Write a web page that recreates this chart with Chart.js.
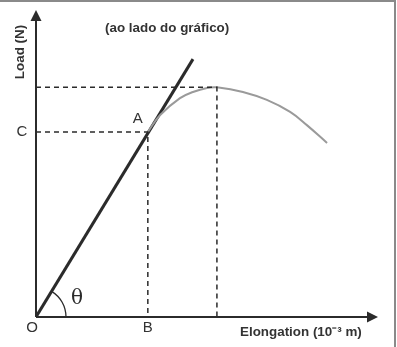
<!DOCTYPE html>
<html>
<head>
<meta charset="utf-8">
<script src="https://cdn.jsdelivr.net/npm/chart.js@4"></script>
<style>
  html, body { margin: 0; padding: 0; background: #fff; }
  canvas { display: block; }
</style>
</head>
<body>
<canvas id="chart" width="397" height="347"></canvas>
<script>
// load vs elongation sketch, arbitrary units (0..10 on both axes)
const curveX = [3.27, 3.63, 4.21, 4.59, 5.0, 5.29, 6.05, 6.75, 7.43, 7.92, 8.51];
const curveY = [6.03, 6.58, 7.13, 7.33, 7.46, 7.48, 7.33, 7.07, 6.68, 6.25, 5.67];
const lineX = [0, 4.59];
const lineY = [0, 8.40];
const pointA = { x: 3.27, y: 6.03 };
const peak = { x: 5.29, y: 7.48 };
const pointLabels = ['O', 'B', 'C', 'A'];
const axisTitles = ['Load (N)', 'Elongation (10\u207B\u00B3 m)', '(ao lado do gráfico)'];

const zip = (xs, ys) => xs.map((x, i) => ({ x: x, y: ys[i] }));

const dashC = [{ x: 0, y: pointA.y }, { x: pointA.x, y: pointA.y }, { x: pointA.x, y: 0 }];
const dashPeak = [{ x: 0, y: peak.y }, { x: peak.x, y: peak.y }, { x: peak.x, y: 0 }];

const ink = '#2b2b2b';

const sketchPlugin = {
    id: 'sketch',
    beforeDraw(chart) {
        const ctx = chart.ctx;
        ctx.save();
        ctx.fillStyle = '#fff';
        ctx.fillRect(0, 0, chart.width, chart.height);
        // frame (top and right only)
        ctx.strokeStyle = '#8a8a8a';
        ctx.lineWidth = 2;
        ctx.beginPath();
        ctx.moveTo(0, 1);
        ctx.lineTo(395, 1);
        ctx.lineTo(395, chart.height);
        ctx.stroke();
        ctx.restore();
    },
    afterDatasetsDraw(chart) {
        const ctx = chart.ctx;
        const xs = chart.scales.x, ys = chart.scales.y;
        const ox = xs.getPixelForValue(0), oy = ys.getPixelForValue(0);
        const xEnd = xs.getPixelForValue(10), yEnd = ys.getPixelForValue(10);
        ctx.save();
        ctx.strokeStyle = ink;
        ctx.fillStyle = ink;
        ctx.lineWidth = 2;
        // axes
        ctx.beginPath();
        ctx.moveTo(ox, oy);
        ctx.lineTo(xEnd - 8, oy);
        ctx.moveTo(ox, oy);
        ctx.lineTo(ox, yEnd + 8);
        ctx.stroke();
        // arrow heads
        ctx.beginPath();
        ctx.moveTo(xEnd, oy);
        ctx.lineTo(xEnd - 11, oy - 5.5);
        ctx.lineTo(xEnd - 11, oy + 5.5);
        ctx.closePath();
        ctx.fill();
        ctx.beginPath();
        ctx.moveTo(ox, yEnd);
        ctx.lineTo(ox - 5.5, yEnd + 11);
        ctx.lineTo(ox + 5.5, yEnd + 11);
        ctx.closePath();
        ctx.fill();
        // theta arc
        const ang = Math.atan2(ys.getPixelForValue(lineY[1]) - oy, xs.getPixelForValue(lineX[1]) - ox);
        ctx.lineWidth = 1.3;
        ctx.beginPath();
        ctx.arc(ox, oy, 30, ang, 0);
        ctx.stroke();
        ctx.font = '20px "DejaVu Serif", serif';
        ctx.textAlign = 'center';
        ctx.textBaseline = 'middle';
        ctx.fillText('\u03B8', ox + 41, oy - 18);

        // point labels
        ctx.fillStyle = '#333';
        ctx.font = '15px "Liberation Sans", Arial, sans-serif';
        ctx.fillText(pointLabels[0], ox - 4, oy + 11);
        ctx.fillText(pointLabels[1], xs.getPixelForValue(pointA.x), oy + 11);
        ctx.fillText(pointLabels[2], ox - 14, ys.getPixelForValue(pointA.y));
        ctx.fillText(pointLabels[3], xs.getPixelForValue(pointA.x) - 10, ys.getPixelForValue(pointA.y) - 13);

        // titles
        ctx.font = 'bold 13.4px "Liberation Sans", Arial, sans-serif';
        ctx.textAlign = 'left';
        ctx.fillText(axisTitles[1], 240, oy + 15);
        ctx.fillText(axisTitles[2], 105, 28);
        ctx.save();
        ctx.translate(20, 52);
        ctx.rotate(-Math.PI / 2);
        ctx.textAlign = 'center';
        ctx.fillText(axisTitles[0], 0, 0);
        ctx.restore();
        ctx.restore();
    }
};

new Chart(document.getElementById('chart').getContext('2d'), {
    type: 'scatter',
    data: {
        datasets: [
            { data: dashC, showLine: true, borderColor: ink, borderWidth: 1.5, borderDash: [5, 4], pointRadius: 0 },
            { data: dashPeak, showLine: true, borderColor: ink, borderWidth: 1.5, borderDash: [5, 4], pointRadius: 0 },
            { data: zip(curveX, curveY), showLine: true, borderColor: '#9a9a9a', borderWidth: 2, pointRadius: 0, tension: 0.4 },
            { data: zip(lineX, lineY), showLine: true, borderColor: ink, borderWidth: 3, pointRadius: 0 }
        ]
    },
    options: {
        responsive: false,
        animation: false,
        layout: { padding: { left: 36, right: 19, top: 10, bottom: 30 } },
        plugins: { legend: { display: false }, tooltip: { enabled: false } },
        scales: {
            x: { type: 'linear', min: 0, max: 10, display: false },
            y: { type: 'linear', min: 0, max: 10, display: false }
        }
    },
    plugins: [sketchPlugin]
});
</script>
</body>
</html>
